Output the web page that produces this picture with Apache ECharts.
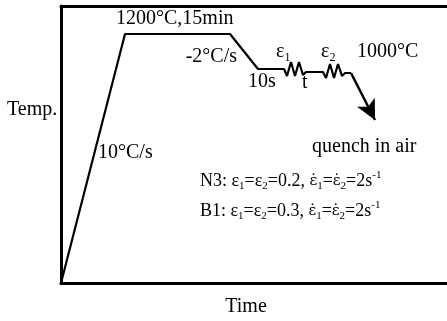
<!DOCTYPE html>
<html>
<head>
<meta charset="utf-8">
<script src="https://cdn.jsdelivr.net/npm/echarts@6/dist/echarts.min.js"></script>
<style>html,body{margin:0;padding:0;background:#fff}#c{width:447px;height:321px}</style>
</head>
<body>
<div id="c"></div>
<script>
// Schematic heating / deformation schedule (arbitrary time & temperature units)
const profileTime = [0, 64, 169, 197, 223, 226, 230, 234, 238, 242, 245, 262, 265, 269, 273, 277, 281, 284, 290];
const profileTemp = [0, 249, 249, 214, 214, 207, 221, 207, 221, 208, 211, 211, 205, 219, 205, 219, 207, 210, 210];
const quenchStart = [290, 210];
const quenchEnd = [314, 163];
const axisNames = {x: 'Time', y: 'Temp.'};

const FONT = '"Liberation Serif", "DejaVu Serif", serif';
const rich = {
  n: {fontFamily: FONT, fontSize: 20, lineHeight: 24, fill: '#000', color: '#000'},
  m: {fontFamily: FONT, fontSize: 18, lineHeight: 22, fill: '#000', color: '#000'},
  e: {fontFamily: '"DejaVu Serif", serif', fontSize: 15, lineHeight: 22, fill: '#000', color: '#000'},
  s: {fontFamily: FONT, fontSize: 12, verticalAlign: 'bottom', fill: '#000', color: '#000'},
  t: {fontFamily: FONT, fontSize: 11, verticalAlign: 'bottom', fill: '#000', color: '#000'},
  p: {fontFamily: FONT, fontSize: 11, verticalAlign: 'top', fill: '#000', color: '#000'}
};
function txt(x, y, text, align) {
  return {
    type: 'text', x: x, y: y, silent: true,
    style: {text: text, rich: rich, font: '20px ' + FONT, fill: '#000', align: align || 'left', verticalAlign: 'middle'}
  };
}
const data = profileTime.map((t, i) => [t, profileTemp[i]]);

const chart = echarts.init(document.getElementById('c'), null, {renderer: 'canvas'});
chart.setOption({
  animation: false,
  backgroundColor: '#fff',
  grid: {left: 61, right: 0, top: 6, bottom: 38},
  xAxis: [
    {type: 'value', min: 0, max: 386, position: 'bottom',
     axisLine: {show: true, lineStyle: {color: '#000', width: 3}},
     axisTick: {show: false}, axisLabel: {show: false}, splitLine: {show: false}},
    {type: 'value', min: 0, max: 386, position: 'top',
     axisLine: {show: true, lineStyle: {color: '#000', width: 3}},
     axisTick: {show: false}, axisLabel: {show: false}, splitLine: {show: false}}
  ],
  yAxis: {type: 'value', min: 0, max: 277,
    axisLine: {show: true, onZero: false, lineStyle: {color: '#000', width: 3}},
    axisTick: {show: false}, axisLabel: {show: false}, splitLine: {show: false}},
  series: [{
    type: 'line', data: data, xAxisIndex: 0, symbol: 'none',
    lineStyle: {color: '#000', width: 2.2},
    markLine: {
      silent: true, symbol: ['none', 'arrow'], symbolSize: [15, 20],
      label: {show: false},
      lineStyle: {type: 'solid', color: '#000', width: 2.5},
      data: [[{coord: quenchStart}, {coord: quenchEnd}]]
    }
  }],
  graphic: [
    txt(7, 110, '{n|' + axisNames.y + '}'),
    txt(246, 307, '{n|' + axisNames.x + '}', 'center'),
    txt(116, 19, '{n|1200°C,15min}'),
    txt(237, 57, '{n|-2°C/s}', 'right'),
    txt(248, 82, '{n|10s}'),
    txt(276, 52, '{n|ε}{s|1}'),
    txt(302, 83, '{n|t}'),
    txt(321, 52, '{n|ε}{s|2}'),
    txt(357, 52, '{n|1000°C}'),
    txt(98, 153, '{n|10°C/s}'),
    txt(312, 147, '{n|quench in air}'),
    txt(200, 181, '{m|N3: ε}{t|1}{m|=ε}{t|2}{m|=0.2, }{e|ε\u0307}{t|1}{m|=}{e|ε\u0307}{t|2}{m|=2s}{p|-1}'),
    txt(200, 211, '{m|B1: ε}{t|1}{m|=ε}{t|2}{m|=0.3, }{e|ε\u0307}{t|1}{m|=}{e|ε\u0307}{t|2}{m|=2s}{p|-1}')
  ]
});
</script>
</body>
</html>
